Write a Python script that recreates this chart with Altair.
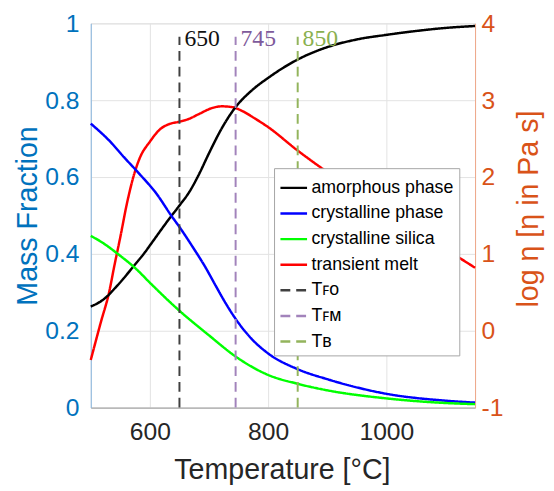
import altair as alt
import pandas as pd

# ---- data ----
amor_T = [500, 522, 544, 572, 592, 600, 633, 650, 667, 683, 700, 722, 745, 772, 800, 849, 900, 950, 1000, 1050, 1100, 1150]
amor_v = [0.263, 0.282, 0.316, 0.367, 0.405, 0.422, 0.492, 0.526, 0.562, 0.607, 0.662, 0.728, 0.782, 0.825, 0.858, 0.905, 0.938, 0.958, 0.970, 0.980, 0.988, 0.993]

cryst_T = [500, 533, 556, 583, 611, 636, 650, 672, 694, 711, 728, 745, 772, 800, 850, 900, 1000, 1100, 1150]
cryst_v = [0.739, 0.692, 0.652, 0.607, 0.557, 0.500, 0.470, 0.419, 0.365, 0.318, 0.272, 0.231, 0.179, 0.141, 0.100, 0.074, 0.036, 0.018, 0.013]

silica_T = [500, 522, 544, 578, 600, 650, 700, 745, 800, 850, 900, 1000, 1100, 1150]
silica_v = [0.447, 0.427, 0.402, 0.359, 0.325, 0.252, 0.188, 0.133, 0.085, 0.062, 0.045, 0.024, 0.012, 0.009]

melt_T = [500, 517, 531, 540, 550, 561, 572, 583, 600, 617, 633, 650, 667, 683, 706, 722, 739, 756, 778, 800, 849, 888, 950, 1000, 1050, 1113, 1150]
melt_v = [-0.38, 0.11, 0.50, 0.85, 1.22, 1.65, 2.00, 2.25, 2.46, 2.62, 2.69, 2.72, 2.76, 2.82, 2.90, 2.92, 2.91, 2.86, 2.76, 2.65, 2.35, 2.13, 1.81, 1.56, 1.31, 1.00, 0.82]

mark_T = [650, 745, 850]
mark_names = ["T\ua730\u1d0f", "T\ua730\u1d0d", "T\u0299"]
mark_text = ["650", "745", "850"]
mark_text_colors = ["#111111", "#7e5a9b", "#8ab04f"]
rule_bottom = [0, 0, 0]
rule_top = [0.965, 0.965, 0.965]
label_y = [0.941, 0.941, 0.941]

series_names = ["amorphous phase", "crystalline phase", "crystalline silica", "transient melt"] + mark_names
series_colors = ["#000000", "#0000ff", "#00ff00", "#ff0000", "#404040", "#a283bb", "#93b45c"]
series_dash = [[1, 0]] * 4 + [[10, 6]] * 3

x_ticks = [600, 800, 1000]
left_ticks = [0, 0.2, 0.4, 0.6, 0.8, 1]
right_ticks = [-1, 0, 1, 2, 3, 4]

# ---- tables ----
left_df = pd.concat([
    pd.DataFrame({"T": amor_T, "v": amor_v, "series": "amorphous phase"}),
    pd.DataFrame({"T": cryst_T, "v": cryst_v, "series": "crystalline phase"}),
    pd.DataFrame({"T": silica_T, "v": silica_v, "series": "crystalline silica"}),
], ignore_index=True)
melt_df = pd.DataFrame({"T": melt_T, "v": melt_v, "series": "transient melt"})
mark_df = pd.DataFrame({"T": mark_T, "series": mark_names, "txt": mark_text,
                        "tcol": mark_text_colors, "y0": rule_bottom, "y1": rule_top,
                        "ly": label_y})

FONT = "Liberation Sans"

legend = alt.Legend(
    orient="none", legendX=186, legendY=147, title=None,
    symbolType="stroke", symbolSize=729, symbolStrokeWidth=2.5,
    labelFont=FONT, labelFontSize=18, labelColor="#000000", labelLimit=300,
    labelOffset=3, fillColor="#ffffff", strokeColor="#a6a6a6",
    padding=5, rowPadding=2, symbolOpacity=1,
)
color = alt.Color("series:N", scale=alt.Scale(domain=series_names, range=series_colors), legend=legend)
dash = alt.StrokeDash("series:N", scale=alt.Scale(domain=series_names, range=series_dash), legend=legend)

x_axis = alt.Axis(
    values=x_ticks, format="d", title="Temperature [°C]", grid=True,
    gridColor="#e3e3e3", ticks=False, tickSize=0, domainColor="#9a9a9a",
    labelFont=FONT, labelFontSize=25, labelColor="#262626", labelPadding=12,
    titleFont=FONT, titleFontSize=29, titleFontWeight="normal", titleColor="#262626",
    titleX=194, titleY=72, titleAlign="center", titleBaseline="alphabetic",
)
X = alt.X("T:Q", scale=alt.Scale(domain=[500, 1150], nice=False, zero=False), axis=x_axis)

left_axis = alt.Axis(
    orient="left", values=left_ticks, labelExpr="format(datum.value, '.1~f')",
    title="Mass Fraction", grid=True, gridColor="#e3e3e3", ticks=False, tickSize=0,
    domainColor="#86b6e0", labelFont=FONT, labelFontSize=25, labelColor="#0072BD",
    labelPadding=12, titleFont=FONT, titleFontSize=29, titleFontWeight="normal",
    titleColor="#0072BD", titleAngle=270, titleX=-55, titleY=195,
    titleAlign="center", titleBaseline="alphabetic",
)
left_scale = alt.Scale(domain=[0, 1], nice=False, zero=False)

right_axis = alt.Axis(
    orient="right", values=right_ticks, labelExpr="'' + datum.value",
    title="log η [η in Pa s]", grid=False, ticks=False, tickSize=0,
    domainColor="#f0a788", labelFont=FONT, labelFontSize=25, labelColor="#D95319",
    labelPadding=6, titleFont=FONT, titleFontSize=29, titleFontWeight="normal",
    titleColor="#D95319", titleAngle=270, titleX=63, titleY=188,
    titleAlign="center", titleBaseline="alphabetic",
)

melt = alt.Chart(melt_df).mark_line(strokeWidth=2.5, interpolate="monotone").encode(
    x=X,
    y=alt.Y("v:Q", scale=alt.Scale(domain=[-1, 4], nice=False, zero=False), axis=right_axis),
    color=color, strokeDash=dash,
)

lines = alt.Chart(left_df).mark_line(strokeWidth=2.5, interpolate="monotone").encode(
    x=X, y=alt.Y("v:Q", scale=left_scale, axis=left_axis),
    color=color, strokeDash=dash, detail="series:N",
)
rules = alt.Chart(mark_df).mark_rule(strokeWidth=2).encode(
    x=X, y=alt.Y("y0:Q", scale=left_scale, axis=left_axis), y2="y1:Q",
    color=color, strokeDash=dash,
)
labels = alt.Chart(mark_df).mark_text(
    font="Liberation Serif", fontSize=24, align="left", baseline="alphabetic", dx=5
).encode(
    x=X, y=alt.Y("ly:Q", scale=left_scale, axis=left_axis), text="txt:N",
    color=alt.Color("tcol:N", scale=None, legend=None),
)

left = alt.layer(lines, rules, labels)

chart = alt.layer(melt, left).resolve_scale(y="independent").properties(
    width=390, height=390,
    padding={"left": 84, "top": 12, "right": 72, "bottom": 76},
    autosize=alt.AutoSizeParams(type="none"),
).configure_view(stroke="#c4c4c4", strokeWidth=1).configure(background="#ffffff")

chart.save("out.html", embed_options={"renderer": "svg", "actions": False})
